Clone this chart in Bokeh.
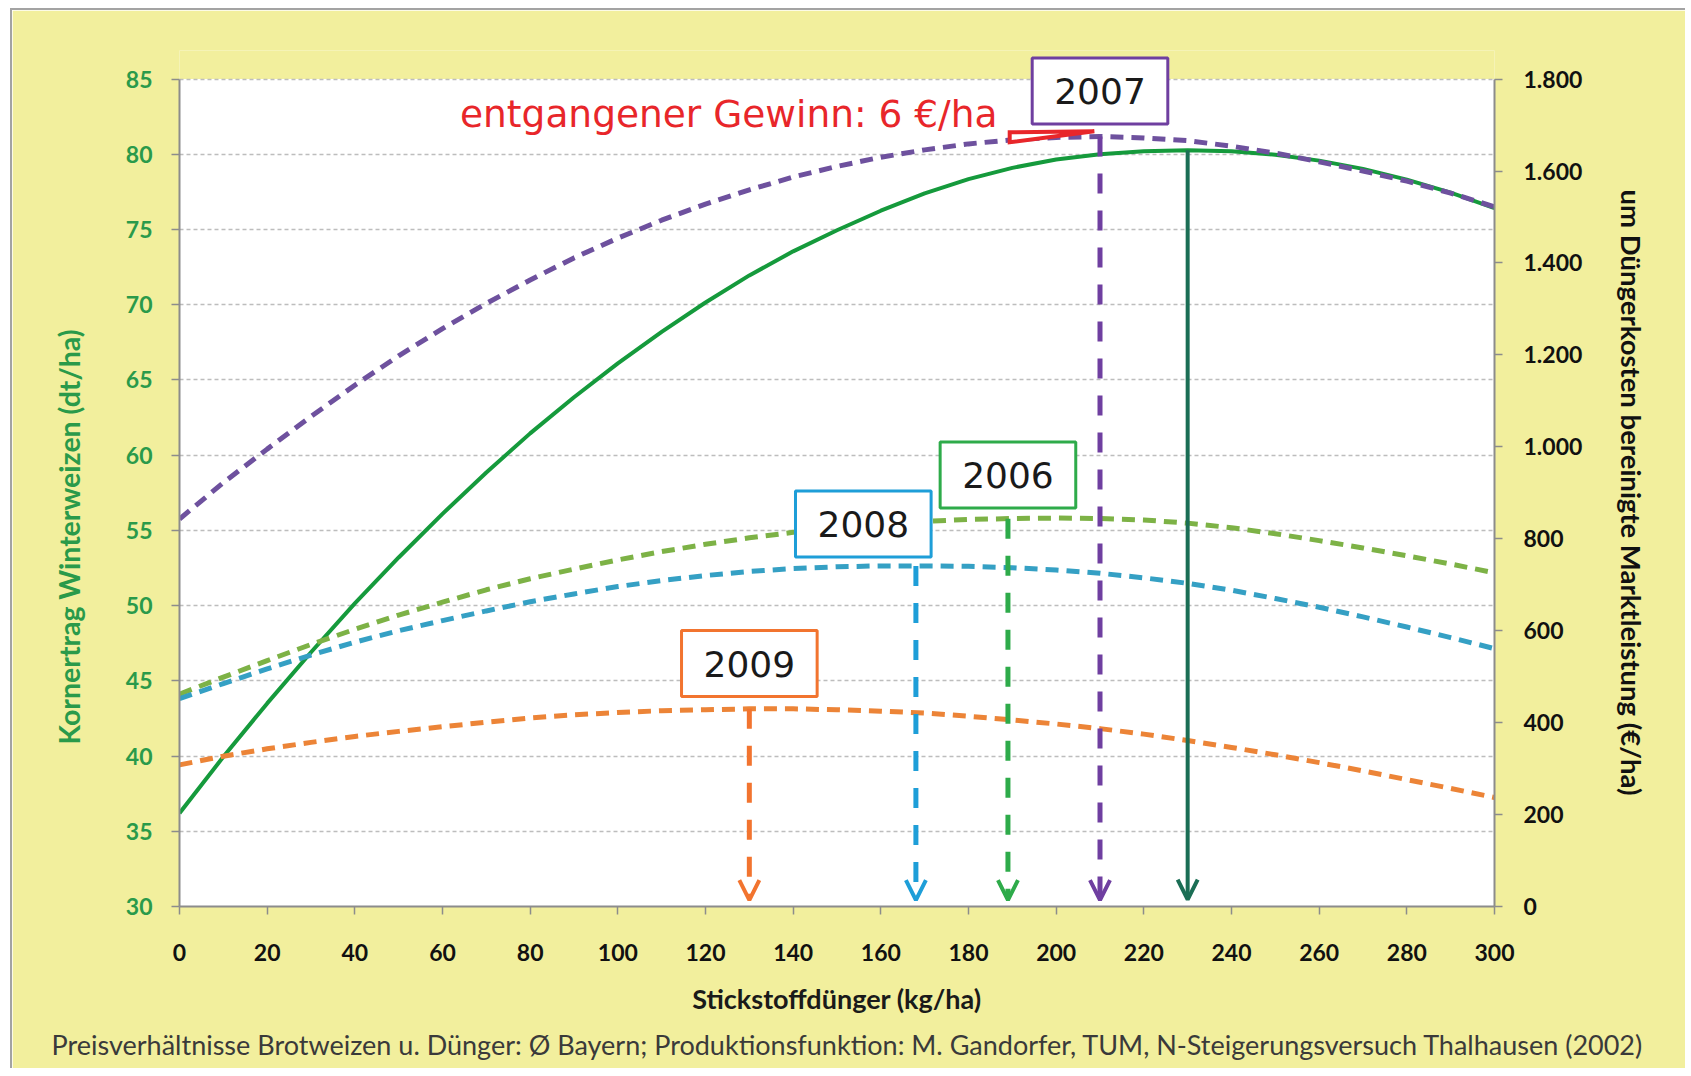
import numpy as np
from bokeh.plotting import figure
from bokeh.models import (Range1d, LinearAxis, FixedTicker, Label, Arrow, OpenHead,
                          BoxAnnotation, Title)
from bokeh.embed import file_html
from bokeh.resources import INLINE

# ---------------- data ----------------
n_kg = [0, 10, 20, 30, 40, 50, 60, 70, 80, 90, 100, 110, 120, 130, 140, 150,
        160, 170, 180, 190, 200, 210, 220, 230, 240, 250, 260, 270, 280, 290, 300]

# Kornertrag Winterweizen (dt/ha) - left axis
yield_dt = [36.2, 39.95, 43.5, 46.9, 50.15, 53.2, 56.1, 58.85, 61.45, 63.85, 66.1,
            68.2, 70.15, 71.95, 73.55, 74.95, 76.25, 77.4, 78.35, 79.1, 79.65, 80.0,
            80.2, 80.27, 80.2, 79.97, 79.58, 79.03, 78.32, 77.45, 76.42]

# um Düngerkosten bereinigte Marktleistung (€/ha) - right axis
ml_2007 = [843, 922, 995, 1066, 1134, 1198, 1257, 1312, 1363, 1411, 1454, 1493,
           1528, 1559, 1587, 1610, 1630, 1646, 1659, 1668, 1673, 1675, 1672, 1666,
           1654, 1639, 1620, 1600, 1578, 1552, 1522]
ml_2006 = [462, 499, 535, 570, 603, 634, 662, 689, 713, 734, 754, 772, 788, 802,
           814, 824, 832, 838, 842, 844, 845, 844, 841, 834, 824, 811, 796, 780,
           763, 745, 726]
ml_2008 = [452, 485, 517, 547, 575, 600, 622, 643, 663, 680, 696, 709, 720, 729,
           735, 739, 741, 741, 740, 737, 732, 725, 715, 703, 688, 670, 651, 630,
           608, 585, 561]
ml_2009 = [308, 327, 343, 357, 370, 381, 391, 401, 410, 417, 422, 426, 428, 430,
           430, 428, 425, 421, 414, 406, 397, 387, 375, 361, 346, 330, 313, 295,
           276, 257, 237]

years = ["2009", "2008", "2006", "2007"]
opt_n = [130, 168, 189, 210]          # optimum N for each year (kg/ha)
opt_yield_n = 230                     # N at maximum yield
box_x = [130, 156, 189, 210]          # year label anchors (kg/ha)
box_y = [46.15, 55.42, 58.68, 84.2]   # year label anchors (dt/ha scale)

loss_text = "entgangener Gewinn: 6 €/ha"
loss_pos = (64, 82.7)
loss_x = [189.4, 189.4, 208.7]
loss_y = [81.46, 80.80, 81.53]

x_ticks = list(range(0, 301, 20))
left_ticks = list(range(30, 86, 5))
right_ticks = list(range(0, 1801, 200))
right_tick_labels = ["0", "200", "400", "600", "800", "1.000", "1.200", "1.400", "1.600", "1.800"]

x_title = "Stickstoffdünger (kg/ha)"
left_title = "Kornertrag Winterweizen (dt/ha)"
right_title = "um Düngerkosten bereinigte Marktleistung (€/ha)"
footnote = ("Preisverhältnisse Brotweizen u. Dünger: Ø Bayern; Produktionsfunktion: "
            "M. Gandorfer, TUM, N-Steigerungsversuch Thalhausen (2002)")

# ---------------- styles / layout ----------------
YELLOW = "#F2EF9D"
AXIS_GRAY = "#8C8C8C"
GREEN_TXT = "#2A9A4A"
curve_cols = {"2006": "#7DB246", "2007": "#6E519E", "2008": "#35A0C4", "2009": "#EC8437"}
vert_cols = {"2006": "#2EAB4A", "2007": "#6F3FA0", "2008": "#1E9ED8", "2009": "#F2742F"}
YIELD_COL = "#159A3C"
YIELD_VERT = "#1B6E55"
RED = "#E8262A"

LEFT_MIN, LEFT_MAX = 30, 85
RIGHT_MIN, RIGHT_MAX = 0, 1800
TOP_ROOM = 1.9      # extra head-room (dt/ha) above the 85 line, kept yellow
left_top = LEFT_MAX + TOP_ROOM
right_top = RIGHT_MAX * (left_top - LEFT_MIN) / (LEFT_MAX - LEFT_MIN)

p = figure(width=1675, height=1060, output_backend="svg", toolbar_location=None,
           x_range=Range1d(0, 300), y_range=Range1d(LEFT_MIN, left_top),
           min_border_left=165, min_border_right=193, min_border_top=40, min_border_bottom=164,
           background_fill_color=YELLOW, border_fill_color=YELLOW, outline_line_color=None,
           styles={"margin-left": "10px", "margin-top": "8px",
                   "border-left": "2px solid #A3A3A3", "border-top": "2px solid #A3A3A3"})
p.extra_y_ranges = {"eur": Range1d(RIGHT_MIN, right_top)}

# white plot area (0..300 x 30..85), drawn beneath the grid
p.add_layout(BoxAnnotation(top=LEFT_MAX, fill_color="white", fill_alpha=1.0,
                           line_color=None, level="image"))

# grid
p.xgrid.visible = False
p.ygrid.ticker = FixedTicker(ticks=left_ticks)
p.ygrid.grid_line_color = "#BDBDBD"
p.ygrid.grid_line_dash = "4 3"
p.ygrid.grid_line_width = 1.3

# x axis
xa = p.xaxis[0]
xa.ticker = FixedTicker(ticks=x_ticks)
xa.axis_label = x_title
xa.axis_label_text_font = "Lato"
xa.axis_label_text_font_style = "bold"
xa.axis_label_text_font_size = "27px"
xa.axis_label_text_color = "#1a1a1a"
xa.axis_label_standoff = 18
xa.major_label_text_font = "Lato"
xa.major_label_text_font_style = "bold"
xa.major_label_text_font_size = "23px"
xa.major_label_text_color = "#111111"
xa.major_label_standoff = 29

# left axis
ya = p.yaxis[0]
ya.ticker = FixedTicker(ticks=left_ticks)
ya.bounds = (LEFT_MIN, LEFT_MAX)
ya.major_label_text_font = "Lato"
ya.major_label_text_font_style = "bold"
ya.major_label_text_font_size = "23px"
ya.major_label_text_color = GREEN_TXT
ya.major_label_standoff = 19

# right axis
ra = LinearAxis(y_range_name="eur", ticker=FixedTicker(ticks=right_ticks),
                bounds=(RIGHT_MIN, RIGHT_MAX),
                major_label_overrides=dict(zip(right_ticks, right_tick_labels)))
ra.major_label_text_font = "Lato"
ra.major_label_text_font_style = "bold"
ra.major_label_text_font_size = "23px"
ra.major_label_text_color = "#111111"
ra.major_label_standoff = 21
p.add_layout(ra, "right")

for ax in (xa, ya, ra):
    ax.axis_line_color = AXIS_GRAY
    ax.axis_line_width = 2
    ax.major_tick_line_color = AXIS_GRAY
    ax.major_tick_line_width = 1.5
    ax.major_tick_out = 8
    ax.major_tick_in = 0
    ax.minor_tick_line_color = None

# axis titles placed as in the original (off-centre), and the footnote
p.add_layout(Title(text=left_title, align="left", offset=162, standoff=74,
                   text_font="Lato", text_font_style="bold", text_font_size="28.5px",
                   text_color=GREEN_TXT), "left")
p.add_layout(Title(text=right_title, align="left", offset=139, standoff=58,
                   text_font="Lato", text_font_style="bold", text_font_size="27.5px",
                   text_color="#111111"), "right")
p.add_layout(Title(text=footnote, align="left", offset=-128, standoff=16,
                   text_font="Lato", text_font_style="normal", text_font_size="27px",
                   text_color="#3a3a3a"), "below")

# curves
p.line(n_kg, yield_dt, line_color=YIELD_COL, line_width=4)
series = {"2006": ml_2006, "2008": ml_2008, "2009": ml_2009, "2007": ml_2007}
for yr, vals in series.items():
    p.line(n_kg, vals, y_range_name="eur", line_color=curve_cols[yr], line_width=5,
           line_dash="13 8")

# optimum arrows
arrow_end_eur = 14
for yr, xo in zip(years, opt_n):
    y0 = float(np.interp(xo, n_kg, series[yr]))
    p.add_layout(Arrow(x_start=xo, y_start=y0, x_end=xo, y_end=arrow_end_eur,
                       y_range_name="eur", line_color=vert_cols[yr], line_width=5,
                       line_dash="20 17",
                       end=OpenHead(size=20, line_color=vert_cols[yr], line_width=4)))
y0 = float(np.interp(opt_yield_n, n_kg, yield_dt))
p.add_layout(Arrow(x_start=opt_yield_n, y_start=y0, x_end=opt_yield_n, y_end=30.45,
                   line_color=YIELD_VERT, line_width=4,
                   end=OpenHead(size=20, line_color=YIELD_VERT, line_width=4)))

# lost-profit wedge and text
p.patch(loss_x, loss_y, fill_color="white", line_color=RED, line_width=4, line_join="miter")
p.add_layout(Label(x=loss_pos[0], y=loss_pos[1], text=loss_text, text_font="DejaVu Sans",
                   text_font_size="37.5px", text_color=RED, text_baseline="alphabetic",
                   text_align="left"))

# year boxes
for yr, bx, by in zip(years, box_x, box_y):
    p.add_layout(Label(x=bx, y=by, text=yr, text_align="center", text_baseline="middle",
                       text_font="DejaVu Sans", text_font_size="36px", text_color="#1a1a1a",
                       background_fill_color="white", border_line_color=vert_cols[yr],
                       border_line_width=3,
                       padding=dict(left=22, right=22, top=20, bottom=20)))

open("out.html", "w").write(file_html(p, INLINE))
